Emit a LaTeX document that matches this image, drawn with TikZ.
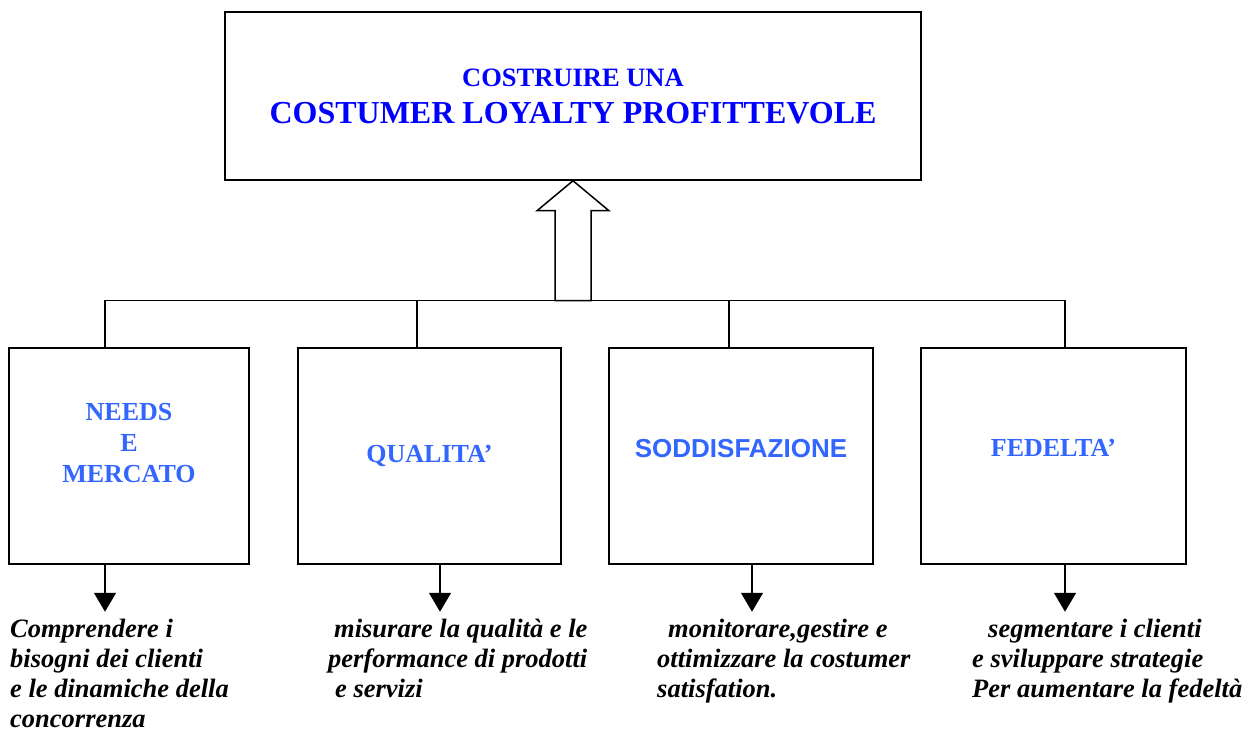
\documentclass[tikz,border=0pt]{standalone}
\usepackage{fontspec}
\setmainfont{Liberation Serif}
\newfontfamily\arialfont{Liberation Sans}
\usetikzlibrary{arrows.meta}
\definecolor{titleblue}{RGB}{0,0,255}
\definecolor{boxblue}{RGB}{51,102,255}

\begin{document}
\begin{tikzpicture}[
        x=1pt,y=-1pt,
        box/.style={draw,line width=1.5pt,inner sep=0pt,minimum height=216pt,align=center,
            text=boxblue,font=\bfseries\fontsize{26}{31}\selectfont},
        note/.style={anchor=base west,inner sep=0pt,align=left,
            font=\bfseries\itshape\fontsize{26.5}{30}\selectfont},
        down/.style={line width=1.5pt,-{Triangle[width=22pt,length=19pt]}},
        wire/.style={line width=1.5pt}
    ]
    \useasboundingbox (0,0) rectangle (1253,735);
    \node[draw,line width=1.5pt,minimum width=696pt,minimum height=168pt,align=center,
        text=titleblue,font=\bfseries\fontsize{32}{37}\selectfont] (goal) at (573,96)
        {\fontsize{26.5}{30}\selectfont COSTRUIRE UNA\\COSTUMER LOYALTY PROFITTEVOLE};
    % hollow arrow up to the goal
    \draw[wire,fill=white] (goal.south) -- ++(36,30) -- ++(-18,0) -- ++(0,90) coordinate (bus)
        -- ++(-36,0) -- ++(0,-90) -- ++(-18,0) -- cycle;

    \node[box,minimum width=240pt,text depth=26pt] (needs) at (129,456) {NEEDS\\E\\MERCATO};
    \node[box,minimum width=263pt] (quality) at (429.5,456) {QUALITA’};
    \node[box,minimum width=264pt,text depth=16pt] (sat) at (741,456) {\arialfont SODDISFAZIONE};
    \node[box,minimum width=265pt,text depth=16pt] (fed) at (1053.5,456) {FEDELTA’};

    \draw[wire] ([xshift=-24pt]needs.north) |- (bus) -| ([xshift=11.5pt]fed.north);
    \draw[wire] ([xshift=-12.5pt]quality.north) -- ([xshift=-12.5pt]quality.north |- bus);
    \draw[wire] ([xshift=-12pt]sat.north) -- ([xshift=-12pt]sat.north |- bus);

    \draw[down] ([xshift=-24pt]needs.south) -- ++(0,47);
    \draw[down] ([xshift=10.5pt]quality.south) -- ++(0,47);
    \draw[down] ([xshift=11pt]sat.south) -- ++(0,47);
    \draw[down] ([xshift=11.5pt]fed.south) -- ++(0,47);

    % notes are placed by the baseline of their last line
    \node[note] (needsnote) at (10,727) {Comprendere i\\bisogni dei clienti\\e le dinamiche della\\concorrenza};
    \node[note] (qualitynote) at (328,697) {\hspace*{6pt}misurare la qualità e le\\performance di prodotti\\\hspace*{7pt}e servizi};
    \node[note] (satnote) at (657,697) {\hspace*{11pt}monitorare,gestire e\\ottimizzare la costumer\\satisfation.};
    \node[note] (fednote) at (972,697) {\hspace*{16pt}segmentare i clienti\\e sviluppare strategie\\Per aumentare la fedeltà};
\end{tikzpicture}
\end{document}
